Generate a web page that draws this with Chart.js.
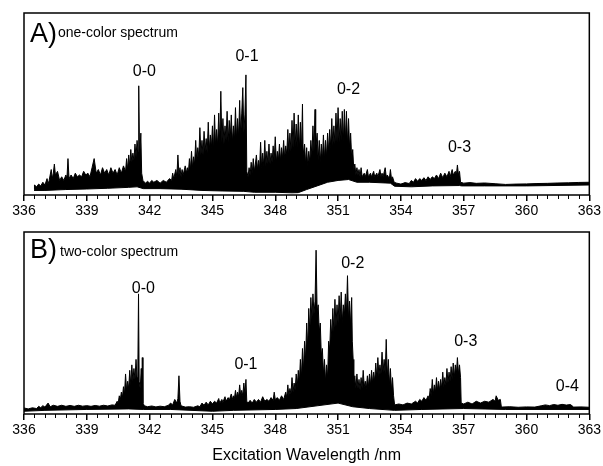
<!DOCTYPE html>
<html>
<head>
<meta charset="utf-8">
<script src="https://cdn.jsdelivr.net/npm/chart.js@4.4.1/dist/chart.umd.min.js"></script>
<style>
  html, body { margin: 0; padding: 0; background: #fff; }
  #specA { position: absolute; left: 0; top: 0; }
  #specB { position: absolute; left: 0; top: 219px; }
</style>
</head>
<body>
<canvas id="specA" width="603" height="220"></canvas>
<canvas id="specB" width="603" height="247"></canvas>
<script>
// tick labels on the wavelength axis (nm)
const xTicks = [336, 339, 342, 345, 348, 351, 354, 357, 360, 363];

// --- A) one-color spectrum: top of the trace (wavelength nm, intensity a.u.) ---
const wlA = [336.48, 336.5, 336.6, 336.7, 336.8, 336.9, 337.0, 337.1, 337.15, 337.2, 337.3, 337.35, 337.4, 337.45, 337.5, 337.6, 337.7, 337.8, 337.9, 338.0, 338.05, 338.1, 338.15, 338.25, 338.35, 338.45, 338.55, 338.65, 338.75, 338.85, 338.95, 339.05, 339.15, 339.25, 339.35, 339.45, 339.55, 339.65, 339.75, 339.85, 339.95, 340.05, 340.15, 340.25, 340.35, 340.45, 340.55, 340.65, 340.75, 340.85, 340.9, 340.95, 341.0, 341.05, 341.1, 341.15, 341.2, 341.25, 341.3, 341.35, 341.4, 341.45, 341.48, 341.52, 341.58, 341.62, 341.68, 341.8, 341.9, 342.0, 342.1, 342.2, 342.35, 342.5, 342.65, 342.8, 342.95, 343.05, 343.1, 343.15, 343.25, 343.3, 343.35, 343.4, 343.45, 343.5, 343.55, 343.6, 343.7, 343.75, 343.8, 343.85, 343.9, 343.95,
  344.0, 344.05, 344.1, 344.15, 344.2, 344.25, 344.3, 344.35, 344.4, 344.45, 344.5, 344.55, 344.6, 344.65, 344.7, 344.75, 344.8, 344.85, 344.9, 344.95, 345.0, 345.05, 345.1, 345.15, 345.2, 345.25, 345.3, 345.35, 345.4, 345.45, 345.5, 345.55, 345.6, 345.65, 345.7, 345.75, 345.8, 345.85, 345.9, 345.95, 346.0, 346.05, 346.1, 346.15, 346.2, 346.25, 346.3, 346.35, 346.4, 346.45, 346.5, 346.55, 346.6, 346.64, 346.7, 346.75, 346.8, 346.85, 346.9, 346.95, 347.0, 347.05, 347.1, 347.15, 347.2, 347.25, 347.3, 347.35, 347.4, 347.45, 347.5, 347.55, 347.6, 347.65, 347.7, 347.75, 347.8, 347.85, 347.9, 347.95,
  348.0, 348.05, 348.1, 348.15, 348.2, 348.25, 348.3, 348.35, 348.4, 348.45, 348.5, 348.55, 348.6, 348.65, 348.7, 348.75, 348.8, 348.85, 348.9, 348.95, 349.0, 349.05, 349.1, 349.15, 349.2, 349.25, 349.3, 349.33, 349.4, 349.45, 349.5, 349.55, 349.6, 349.65, 349.7, 349.75, 349.8, 349.85, 349.9, 349.93, 350.0, 350.05, 350.1, 350.15, 350.2, 350.25, 350.3, 350.35, 350.4, 350.45, 350.5, 350.55, 350.6, 350.65, 350.7, 350.75, 350.8, 350.85, 350.9, 350.95, 351.0, 351.05, 351.1, 351.15, 351.2, 351.25, 351.3, 351.35, 351.4, 351.45, 351.5, 351.55, 351.6, 351.65, 351.7, 351.75, 351.8, 351.85, 351.9, 351.95,
  352.0, 352.05, 352.1, 352.15, 352.25, 352.3, 352.4, 352.45, 352.55, 352.6, 352.7, 352.75, 352.85, 352.9, 353.0, 353.05, 353.1, 353.15, 353.25, 353.3, 353.35, 353.45, 353.5, 353.55, 353.6, 353.68, 353.8, 354.0, 354.2, 354.4, 354.5, 354.6, 354.7, 354.8, 354.9, 355.0, 355.1, 355.2, 355.3, 355.4, 355.5, 355.6, 355.7, 355.8, 355.9, 356.0, 356.1, 356.2, 356.3, 356.35, 356.45, 356.5, 356.6, 356.65, 356.7, 356.75, 356.8, 356.85, 357.0, 357.3, 357.6, 358.0, 358.5, 359.0, 359.5, 360.0, 360.5, 361.0, 361.5, 362.0, 362.5, 363.0];
const hiA = [3, 5.5, 4.5, 6, 5, 7, 5.5, 9, 6, 8, 14, 9, 12, 17, 11, 13, 8, 10, 8, 11, 9, 20, 9, 11, 9, 12, 10, 11, 10, 13, 11, 12, 10, 15, 20, 12, 14, 11, 15, 12, 14, 11, 15, 12, 14, 11, 15, 12, 16, 13, 20, 14, 22, 16, 25, 18, 23, 19, 28, 21, 30, 24, 60, 20, 34, 12, 8, 6.5, 7.5, 6.5, 8, 7, 8, 6.5, 8, 7, 9, 8, 12, 9, 14, 10, 22, 11, 15, 10, 14, 11, 16, 12, 15, 12, 20, 14,
  24, 15, 21, 17, 30, 19, 26, 21, 37, 22, 30, 22, 35, 24, 31, 23, 40, 25, 33, 26, 38, 25, 44, 27, 36, 27, 45, 28, 57, 29, 42, 28, 38, 30, 46, 29, 41, 31, 44, 29, 38, 30, 48, 31, 42, 32, 52, 33, 45, 59, 34, 44, 66, 13, 10, 15, 11, 18, 12, 20, 13, 17, 22, 14, 19, 14, 29, 15, 23, 16, 30, 16, 24, 17, 28, 17, 23, 18, 27, 19,
  32, 18, 24, 19, 28, 19, 26, 20, 30, 20, 27, 22, 36, 23, 34, 24, 41, 26, 45, 27, 39, 26, 44, 25, 40, 24, 50, 22, 28, 17, 26, 16, 24, 18, 30, 22, 38, 24, 47, 25, 34, 19, 30, 18, 28, 19, 33, 20, 30, 21, 34, 24, 36, 26, 42, 27, 38, 28, 45, 29, 48, 29, 42, 30, 46, 29, 47, 30, 46, 28, 42, 26, 34, 20, 25, 14, 17, 11, 15, 11,
  14, 10, 15, 10, 12, 10, 14, 10, 12, 10, 13, 10, 12, 10, 14, 10, 12, 10, 15, 10, 11, 9, 14, 9, 10, 7, 6.5, 6, 6.8, 6.3, 8, 7, 9, 7.5, 9, 8, 9.5, 8, 10, 8.5, 10, 9, 11, 9, 12, 9.5, 12, 10, 13, 10, 14, 11, 13, 11, 16.5, 11, 13, 7, 6.5, 6.8, 6.4, 6.6, 6.2, 5.8, 6, 6.1, 6.3, 6.4, 6.6, 6.7, 6.9, 7];
// bottom of the trace
const wlLoA = [336.48, 337, 338, 339, 340, 341, 341.4, 341.7, 342.5, 343.5, 344.5, 345.5, 346.5, 347, 348, 348.8, 349.1, 349.5, 350, 350.5, 351, 351.5, 351.9, 352.5, 353.5, 353.7, 354.5, 355.5, 356.8, 356.9, 358, 360, 363];
const loA = [2.5, 2.5, 3, 3.3, 3.7, 4.2, 4.5, 3.5, 3.5, 3.2, 2.5, 2.2, 2, 1.5, 1.5, 1.2, 1.3, 3, 5, 7, 8, 8.5, 7, 7, 6.5, 4.8, 4.5, 5, 5.2, 5, 5, 5, 5.5];

// --- B) two-color spectrum ---
const wlB = [336.0, 336.2, 336.4, 336.6, 336.7, 336.8, 336.9, 337.0, 337.15, 337.25, 337.4, 337.6, 337.8, 338.0, 338.2, 338.4, 338.6, 338.8, 339.0, 339.2, 339.4, 339.6, 339.8, 340.0, 340.2, 340.35, 340.45, 340.5, 340.55, 340.6, 340.65, 340.7, 340.75, 340.8, 340.85, 340.9, 340.95, 341.0, 341.05, 341.1, 341.15, 341.2, 341.25, 341.3, 341.35, 341.4, 341.44, 341.47, 341.5, 341.55, 341.6, 341.63, 341.65, 341.68, 341.75, 341.9,
  342.1, 342.3, 342.5, 342.7, 342.9, 343.0, 343.1, 343.2, 343.3, 343.35, 343.4, 343.45, 343.5, 343.7, 343.9, 344.1, 344.3, 344.4, 344.5, 344.6, 344.7, 344.8, 344.9, 345.0, 345.1, 345.2, 345.3, 345.35, 345.45, 345.5, 345.6, 345.65, 345.75, 345.8, 345.9, 345.95, 346.0, 346.05, 346.1, 346.15, 346.2, 346.25, 346.3, 346.35, 346.4, 346.45, 346.5, 346.55, 346.6, 346.64, 346.7, 346.8, 346.9, 347.0, 347.1, 347.2, 347.3, 347.4, 347.5, 347.6, 347.7, 347.8, 347.9, 347.95,
  348.0, 348.1, 348.2, 348.3, 348.4, 348.5, 348.55, 348.6, 348.65, 348.7, 348.75, 348.8, 348.85, 348.9, 348.95, 349.0, 349.05, 349.1, 349.15, 349.2, 349.25, 349.3, 349.35, 349.4, 349.45, 349.5, 349.55, 349.6, 349.65, 349.7, 349.75, 349.8, 349.85, 349.9, 349.95, 350.0, 350.05, 350.1, 350.15, 350.2, 350.25, 350.3, 350.35, 350.4, 350.45, 350.5, 350.55, 350.6, 350.65, 350.7, 350.75, 350.8, 350.85, 350.9, 350.95, 351.0, 351.05, 351.1, 351.15, 351.2, 351.25, 351.3, 351.35, 351.4, 351.45, 351.5, 351.55, 351.6, 351.65, 351.68, 351.72, 351.75, 351.8, 351.85, 351.9, 351.95,
  352.0, 352.05, 352.1, 352.15, 352.2, 352.25, 352.3, 352.35, 352.4, 352.45, 352.5, 352.55, 352.6, 352.65, 352.7, 352.75, 352.8, 352.85, 352.9, 352.95, 353.0, 353.05, 353.1, 353.15, 353.2, 353.25, 353.3, 353.35, 353.4, 353.45, 353.5, 353.55, 353.6, 353.65, 353.7, 353.9, 354.1, 354.3, 354.5, 354.7, 354.8, 354.9, 355.0, 355.1, 355.2, 355.3, 355.35, 355.4, 355.45, 355.5, 355.55, 355.6, 355.65, 355.7, 355.75, 355.8, 355.85, 355.9, 355.95, 356.0, 356.05, 356.1, 356.15, 356.2, 356.25, 356.3, 356.35, 356.4, 356.45, 356.5, 356.55, 356.6, 356.65, 356.7, 356.75, 356.8, 356.85, 356.88,
  357.0, 357.2, 357.4, 357.6, 357.8, 358.0, 358.2, 358.4, 358.5, 358.55, 358.65, 358.75, 358.8, 359.2, 359.6, 360.0, 360.4, 360.7, 360.9, 361.1, 361.3, 361.5, 361.7, 361.9, 362.1, 362.25, 362.6, 363.0];
const hiB = [3.3, 2.8, 3.4, 3, 4.2, 3.5, 4.6, 3.8, 6, 4, 4.8, 4.2, 4.8, 4.2, 4.7, 4.2, 4.8, 4.3, 4.6, 4.2, 4.7, 4.3, 4.8, 4.4, 5, 4.8, 7, 6, 10, 8, 12, 9, 15, 11, 22, 13, 18, 14, 24, 16, 27, 18, 25, 19, 30, 20, 28, 66, 18, 14, 25, 12, 31, 6, 4.5, 4,
  4.4, 3.9, 4.3, 4, 4.8, 6, 5, 8, 6, 8.5, 21, 7, 4.5, 3.8, 4, 3.7, 4.5, 4, 6, 4.8, 6.5, 5, 7, 5.5, 7, 6, 8.5, 6, 8, 6.5, 9.5, 7, 9, 7.5, 11, 8, 10, 8.5, 13, 9, 12, 9.5, 16, 10, 13, 10, 17, 11, 19, 7, 6, 7.5, 6, 8, 6.5, 8, 6.5, 9.5, 7, 8, 7, 9, 7.5, 12,
  8, 9, 7.5, 10, 8, 12, 9, 16, 10, 14, 11, 20, 12, 17, 13, 22, 15, 24, 17, 30, 20, 36, 24, 40, 30, 50, 36, 58, 45, 64, 52, 66, 55, 62, 90, 56, 60, 45, 50, 32, 36, 22, 30, 18, 27, 20, 40, 35, 52, 42, 58, 45, 63, 48, 60, 50, 65, 52, 67, 50, 60, 54, 66, 55, 76, 52, 62, 48, 64, 40, 30, 16, 21, 14, 22, 14,
  19, 13, 20, 14, 24, 15, 18, 14, 21, 15, 22, 16, 24, 17, 23, 18, 28, 20, 31, 21, 27, 22, 34, 23, 30, 22, 41, 20, 30, 16, 25, 13, 20, 10, 5, 5.5, 5, 6, 5.5, 7, 6, 8, 7, 9, 7.5, 10, 8, 14, 10, 19, 11, 16, 12, 20, 13, 18, 13, 19, 14, 23, 15, 20, 16, 25, 17, 23, 18, 26, 19, 28, 20, 27, 22, 31, 22, 27, 20, 6,
  5.5, 6.5, 5.5, 7, 6, 7, 6.5, 8, 7, 10, 7.5, 8, 3.8, 4, 3.7, 3.9, 3.8, 4.5, 5, 4.6, 5.2, 4.8, 5.3, 4.9, 5.2, 3.8, 3.9, 3.7];
const wlLoB = [336, 337, 339, 341, 341.7, 343, 345, 346, 348, 349, 350, 351, 351.7, 352.5, 353.7, 355, 357, 359, 363];
const loB = [1.5, 2, 2.5, 2.8, 2.5, 2.5, 1.5, 2, 2.5, 3, 4.5, 6, 4, 3, 2, 2.5, 3, 2.5, 2.5];

// band assignments written above the progressions
const tagsA = ['0-0', '0-1', '0-2', '0-3'];
const tagXA = [341.75, 346.65, 351.5, 356.8];
const tagYA = [67.6, 75.8, 58, 25.8];
const tagsB = ['0-0', '0-1', '0-2', '0-3', '0-4'];
const tagXB = [341.7, 346.6, 351.7, 357.1, 361.95];
const tagYB = [68.7, 27, 82.4, 39.6, 14.8];

const fontFam = '"Liberation Sans", Arial, sans-serif';

function toPts(xs, ys) {
  return xs.map((x, i) => ({ x: x, y: ys[i] }));
}

const frame = {
  id: 'frame',
  afterDraw(chart, args, opts) {
    const { ctx, chartArea: a } = chart;
    const x = chart.scales.x, y = chart.scales.y;
    ctx.save();
    ctx.strokeStyle = '#000';
    ctx.lineWidth = 1.5;
    ctx.strokeRect(a.left, a.top, a.right - a.left, a.bottom - a.top);
    // minor ticks every 0.5 nm
    ctx.lineWidth = 1;
    for (let v = 336.5; v < 363; v += 0.5) {
      if (v % 3 === 0) continue;
      const px = Math.round(x.getPixelForValue(v)) + 0.5;
      ctx.beginPath();
      ctx.moveTo(px, a.bottom);
      ctx.lineTo(px, a.bottom + 4);
      ctx.stroke();
    }
    ctx.fillStyle = '#000';
    ctx.font = '16px ' + fontFam;
    ctx.textAlign = 'center';
    ctx.textBaseline = 'middle';
    opts.tags.forEach((t, i) => {
      ctx.fillText(t, x.getPixelForValue(opts.tagX[i]), y.getPixelForValue(opts.tagY[i]));
    });
    ctx.textAlign = 'left';
    ctx.textBaseline = 'alphabetic';
    ctx.font = '27px ' + fontFam;
    ctx.fillText(opts.letter, a.left + 6, a.top + opts.letterBase);
    ctx.font = '14px ' + fontFam;
    ctx.fillText(opts.caption, a.left + opts.capX, a.top + opts.capBase);
    ctx.restore();
  }
};

function makeSpec(id, hiX, hiY, loX, loY, panel, axisH, withTitle) {
  return new Chart(document.getElementById(id), {
    type: 'line',
    data: {
      datasets: [
        { data: toPts(hiX, hiY), borderColor: '#000', borderWidth: 1, backgroundColor: '#000',
          fill: '+1', pointRadius: 0, tension: 0 },
        { data: toPts(loX, loY), borderColor: '#000', borderWidth: 1, pointRadius: 0,
          fill: false, tension: 0 }
      ]
    },
    options: {
      responsive: false,
      animation: false,
      events: [],
      layout: { padding: { left: 24, right: 11, top: 13, bottom: 0 } },
      plugins: {
        legend: { display: false },
        tooltip: { enabled: false },
        frame: panel
      },
      scales: {
        x: {
          type: 'linear',
          min: 336,
          max: 363,
          afterBuildTicks: s => { s.ticks = xTicks.map(v => ({ value: v })); },
          afterFit: s => { s.height = axisH; },
          grid: { drawOnChartArea: false, color: '#000', lineWidth: 1.5, tickLength: 6 },
          border: { display: false },
          ticks: { color: '#000', font: { family: fontFam, size: 14 }, padding: 2,
                   maxRotation: 0, autoSkip: false, callback: v => v },
          title: { display: withTitle, text: 'Excitation Wavelength /nm', color: '#000',
                   font: { family: fontFam, size: 16 }, padding: { top: 0, bottom: 1 } }
        },
        y: { display: false, min: 0, max: 100 }
      }
    },
    plugins: [frame]
  });
}

makeSpec('specA', wlA, hiA, wlLoA, loA,
  { tags: tagsA, tagX: tagXA, tagY: tagYA, letter: 'A)', caption: 'one-color spectrum',
    letterBase: 29, capX: 34, capBase: 24 }, 25, false);
makeSpec('specB', wlB, hiB, wlLoB, loB,
  { tags: tagsB, tagX: tagXB, tagY: tagYB, letter: 'B)', caption: 'two-color spectrum',
    letterBase: 26, capX: 36, capBase: 24 }, 52, true);
</script>
</body>
</html>
